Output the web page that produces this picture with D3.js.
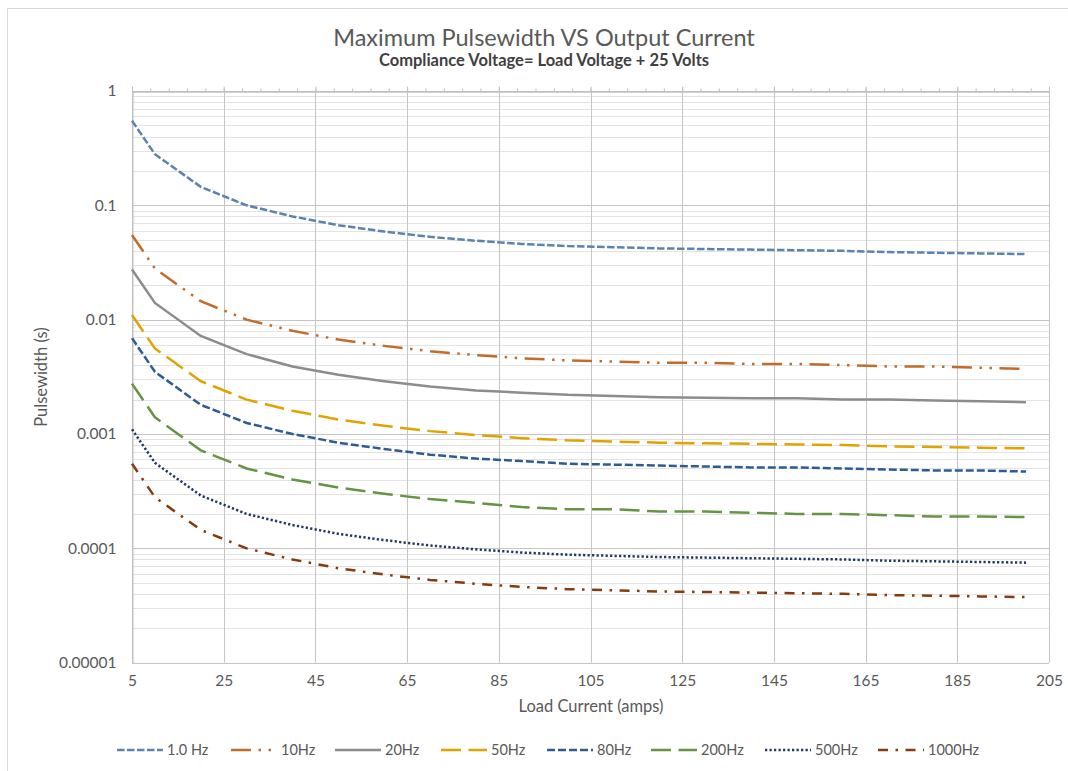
<!doctype html>
<html>
<head>
<meta charset="utf-8">
<script src="https://cdn.jsdelivr.net/npm/d3@7/dist/d3.min.js"></script>
<style>
  body { margin:0; background:#fff; }
  text { font-family: Lato, "Open Sans", sans-serif; }
</style>
</head>
<body>
<svg id="chart"></svg>
<script>
// load current (amps)
var current = [5,10,20,30,40,50,60,70,80,90,100,110,120,130,140,150,160,170,180,190,200];

var seriesNames = ["1.0 Hz","10Hz","20Hz","50Hz","80Hz","200Hz","500Hz","1000Hz"];

// pulsewidth (s)
var pw1 = [0.55,0.28,0.145,0.1,0.08,0.067,0.059,0.053,0.049,0.046,0.044,0.043,0.042,0.0415,0.041,0.0405,0.04,0.039,0.0385,0.038,0.0375];
var pw10 = [0.055,0.028,0.0145,0.01,0.008,0.0067,0.0059,0.0053,0.0049,0.0046,0.0044,0.0043,0.0042,0.0042,0.0041,0.0041,0.004,0.0039,0.0039,0.0038,0.0037];
var pw20 = [0.0275,0.014,0.0072,0.005,0.0039,0.0033,0.0029,0.0026,0.0024,0.0023,0.0022,0.00215,0.0021,0.00208,0.00205,0.00205,0.002,0.002,0.00196,0.00193,0.0019];
var pw50 = [0.011,0.0056,0.0029,0.002,0.0016,0.00134,0.00118,0.00106,0.00098,0.00092,0.00088,0.00086,0.00084,0.00083,0.00082,0.00081,0.0008,0.00078,0.00077,0.00076,0.00075];
var pw80 = [0.0069,0.0035,0.0018,0.00125,0.001,0.00084,0.00074,0.00066,0.00061,0.00058,0.00055,0.00054,0.00053,0.00052,0.00051,0.00051,0.0005,0.00049,0.00048,0.00048,0.00047];
var pw200 = [0.00275,0.0014,0.00072,0.0005,0.0004,0.00034,0.0003,0.00027,0.00025,0.00023,0.00022,0.00022,0.00021,0.00021,0.000205,0.0002,0.0002,0.000195,0.00019,0.00019,0.000188];
var pw500 = [0.0011,0.00056,0.00029,0.0002,0.00016,0.000134,0.000118,0.000106,0.000098,0.000092,0.000088,0.000086,0.000084,0.000083,0.000082,0.000081,0.00008,0.000078,0.000077,0.000076,0.000075];
var pw1000 = [0.00055,0.00028,0.000145,0.0001,0.00008,0.000067,0.000059,0.000053,0.000049,0.000046,0.000044,0.000043,0.000042,0.0000415,0.000041,0.0000405,0.00004,0.000039,0.0000385,0.000038,0.0000375];

var xTicks = [5,25,45,65,85,105,125,145,165,185,205];
var yTicks = [1,0.1,0.01,0.001,0.0001,0.00001];
var yTickLabels = ["1","0.1","0.01","0.001","0.0001","0.00001"];

var values = [pw1,pw10,pw20,pw50,pw80,pw200,pw500,pw1000];
var colors = ["#5b83ad","#c26c2c","#8c8c8c","#e0a300","#2e5c92","#659444","#1f3866","#843c0e"];
var dashes = ["7.5,2.5","20,7.5,2.5,7.5,2.5,7.5",null,"20,7.5","8,3","20,7.5","2.25,2.25","10,7.5,2.5,7.5"];

var width = 1068, height = 771;
var svg = d3.select("#chart").attr("width",width).attr("height",height);

// chart frame
svg.append("rect").attr("x",7.5).attr("y",8.5).attr("width",1100).attr("height",800)
   .attr("fill","#fff").attr("stroke","#d9d9d9");

var x = d3.scaleLinear().domain([5,205]).range([132,1049]);
var y = d3.scaleLog().domain([0.00001,1]).range([662.7,91]);

var grid = svg.append("g");
// minor horizontal gridlines
var minor = [];
for (var e=-5;e<0;e++) for (var m=2;m<10;m++) minor.push(m*Math.pow(10,e));
grid.selectAll("line.minor").data(minor).enter().append("line")
    .attr("x1",x(5)).attr("x2",x(205))
    .attr("y1",d=>Math.round(y(d))+0.5).attr("y2",d=>Math.round(y(d))+0.5)
    .attr("stroke","#e3e3e3").attr("stroke-width",1);
// major horizontal gridlines
grid.selectAll("line.major").data(yTicks).enter().append("line")
    .attr("x1",x(5)).attr("x2",x(205))
    .attr("y1",d=>Math.round(y(d))+0.5).attr("y2",d=>Math.round(y(d))+0.5)
    .attr("stroke","#c4c4c4").attr("stroke-width",1);
// vertical gridlines
grid.selectAll("line.v").data(xTicks).enter().append("line")
    .attr("x1",d=>Math.round(x(d))+0.5).attr("x2",d=>Math.round(x(d))+0.5)
    .attr("y1",y(1)).attr("y2",y(0.00001))
    .attr("stroke","#c4c4c4").attr("stroke-width",1);

// horizontal axis crosses at 1 (top), with minor ticks
var minorX = d3.range(5,206,4);
svg.append("g").attr("transform","translate(0,"+(Math.round(y(1))+0.5)+")")
   .call(d3.axisTop(x).tickValues(minorX).tickSize(3).tickFormat("").tickSizeOuter(0))
   .call(g=>g.selectAll("line,path").attr("stroke","#bfbfbf"));
svg.append("g").attr("transform","translate(0,"+(Math.round(y(1))+0.5)+")")
   .call(d3.axisTop(x).tickValues(xTicks).tickSize(5).tickFormat("").tickSizeOuter(0))
   .call(g=>g.selectAll("line,path").attr("stroke","#bfbfbf"));

// vertical axis
svg.append("g").attr("transform","translate("+(Math.round(x(5))+0.5)+",0)")
   .call(d3.axisLeft(y).tickValues(yTicks).tickSize(0).tickPadding(16)
        .tickFormat((d,i)=>yTickLabels[i]))
   .call(g=>g.select(".domain").attr("stroke","#bfbfbf"))
   .call(g=>g.selectAll("text").attr("fill","#595959").style("font-size","15.5px")
        .style("font-family","Lato, sans-serif"));

// x tick labels at the bottom
svg.append("g").attr("transform","translate(0,"+y(0.00001)+")")
   .call(d3.axisBottom(x).tickValues(xTicks).tickSize(0).tickPadding(12))
   .call(g=>g.select(".domain").remove())
   .call(g=>g.selectAll("text").attr("fill","#595959").style("font-size","15.5px")
        .style("font-family","Lato, sans-serif"));

// series lines
var line = d3.line().x((d,i)=>x(current[i])).y(d=>y(d));
svg.append("g").selectAll("path").data(values).enter().append("path")
   .attr("d",line).attr("fill","none")
   .attr("stroke",(d,i)=>colors[i]).attr("stroke-width",2.5)
   .attr("stroke-dasharray",(d,i)=>dashes[i]);

// titles
svg.append("text").attr("x",544).attr("y",46).attr("text-anchor","middle")
   .attr("fill","#595959").style("font-size","23.5px").style("font-weight","400")
   .text("Maximum Pulsewidth VS Output Current");
svg.append("text").attr("x",544).attr("y",66).attr("text-anchor","middle")
   .attr("fill","#404040").style("font-size","16.5px").style("font-weight","bold")
   .text("Compliance Voltage= Load Voltage + 25 Volts");
svg.append("text").attr("x",591).attr("y",712).attr("text-anchor","middle")
   .attr("fill","#595959").style("font-size","16.5px")
   .text("Load Current (amps)");
svg.append("text").attr("transform","translate(47,377) rotate(-90)").attr("text-anchor","middle")
   .attr("fill","#595959").style("font-size","16.5px")
   .text("Pulsewidth (s)");

// legend
var legendX = [117,231,335,441,547,651,765,878];
var lg = svg.append("g").selectAll("g").data(seriesNames).enter().append("g")
   .attr("transform",(d,i)=>"translate("+legendX[i]+",750)");
lg.append("line").attr("x1",0).attr("x2",46).attr("y1",0).attr("y2",0)
  .attr("stroke",(d,i)=>colors[i]).attr("stroke-width",2.5)
  .attr("stroke-dasharray",(d,i)=>dashes[i]);
lg.append("text").attr("x",50).attr("y",5).attr("fill","#595959")
  .style("font-size","14.5px").text(d=>d);
</script>
</body>
</html>
